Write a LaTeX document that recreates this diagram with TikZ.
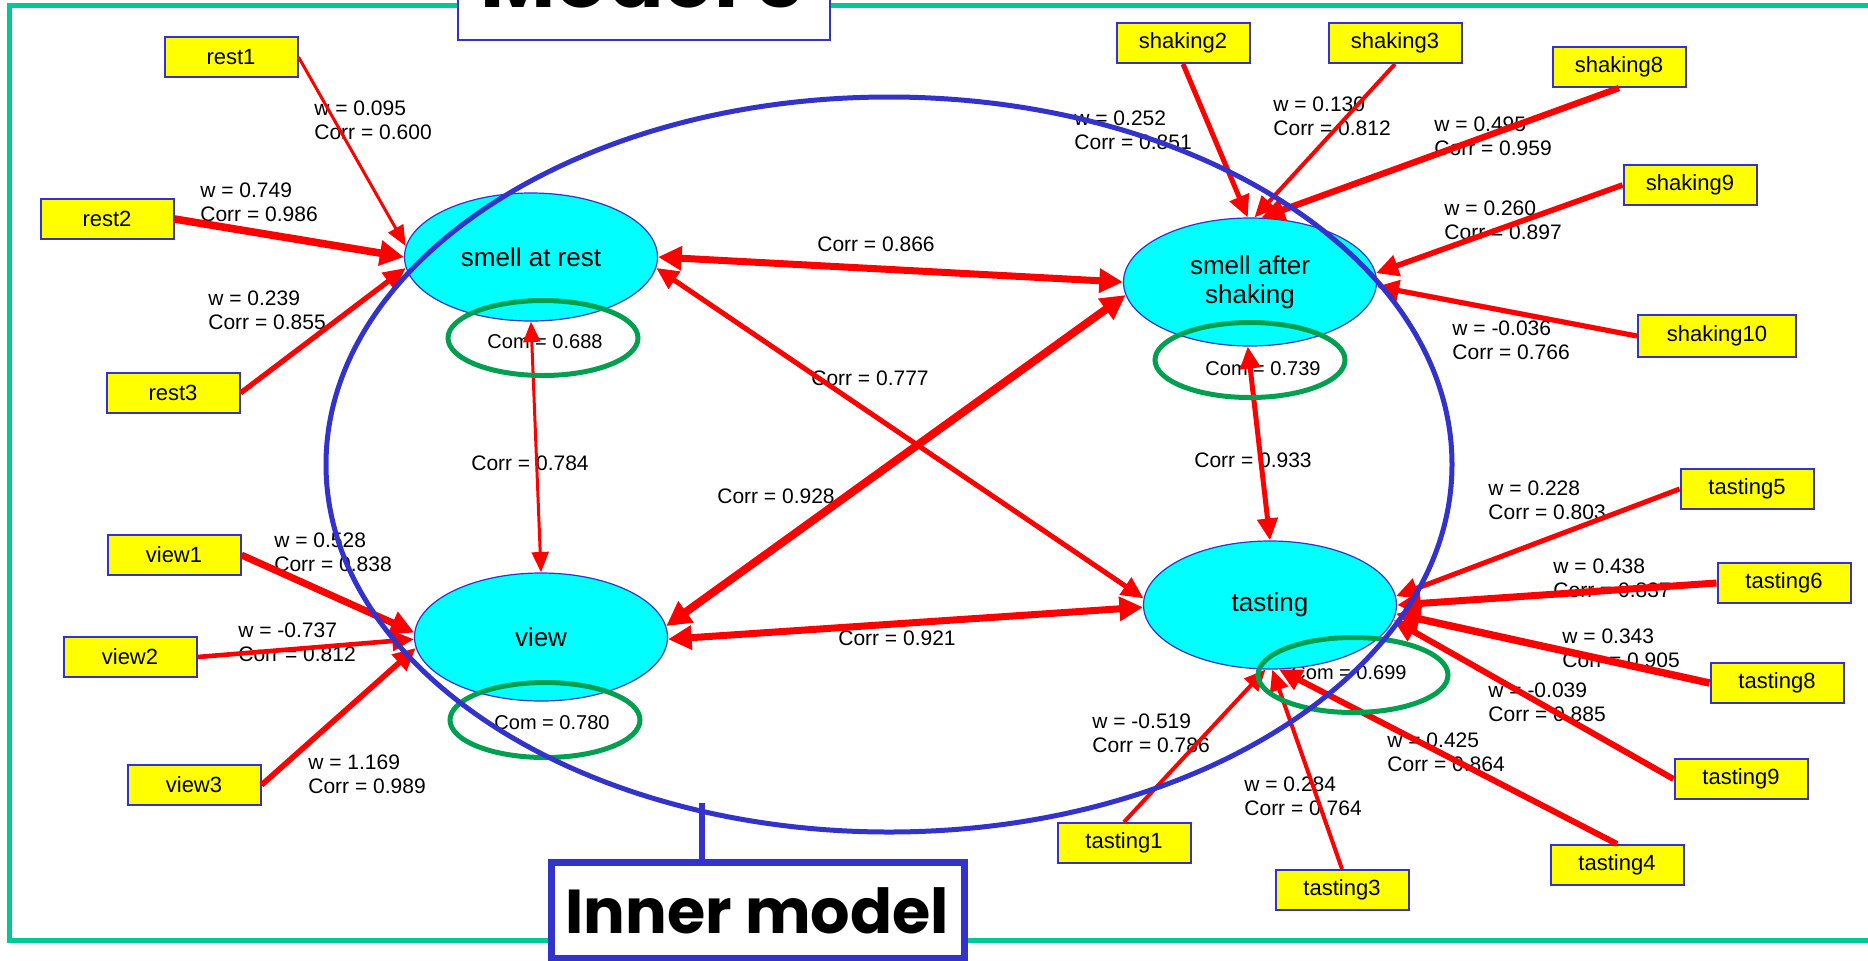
\documentclass[tikz,border=0pt]{standalone}
\usepackage{fontspec}
\setmainfont{Liberation Sans}
\newfontfamily\headfont{Poppins}
\usetikzlibrary{shapes.geometric,arrows.meta}
\definecolor{frameteal}{RGB}{0,200,150}
\definecolor{pathblue}{RGB}{51,51,204}
\definecolor{comgreen}{RGB}{0,160,80}
\definecolor{lvcyan}{RGB}{0,255,255}
\definecolor{mvyellow}{RGB}{255,255,0}
\begin{document}
\begin{tikzpicture}[x=0.5pt,y=-0.5pt,
  mv/.style={draw=pathblue, line width=1pt, fill=mvyellow, minimum width=66.5pt,
    minimum height=20pt, inner sep=0pt, font=\fontsize{11}{13}\selectfont},
  lv/.style={ellipse, draw=pathblue, line width=0.6pt, fill=lvcyan, minimum width=126.5pt,
    minimum height=64pt, inner sep=0pt, align=center, font=\fontsize{13}{14.5}\selectfont},
  wlab/.style={anchor=west, align=left, inner sep=0pt, font=\fontsize{10.5}{12}\selectfont},
  clab/.style={inner sep=0pt, font=\fontsize{10.5}{12}\selectfont},
  comlab/.style={inner sep=0pt, font=\fontsize{10}{12}\selectfont},
  comring/.style={ellipse, draw=comgreen, line width=2.5pt, minimum width=95pt,
    minimum height=37.5pt, inner sep=0pt},
  ind/.style={draw=red, line width=#1, -{Triangle[length=9pt 0.8, width=6pt 1.6]}},
  corr/.style={draw=red, line width=#1,
    {Triangle[length=9pt 0.8, width=6pt 1.6]}-{Triangle[length=9pt 0.8, width=6pt 1.6]}},
  headbox/.style={draw=pathblue, fill=white, inner sep=0pt}
]
\useasboundingbox (0,0) rectangle (1868,960);
\clip (0,0) rectangle (1868,960);

% outer frame
\draw[frameteal, line width=2.5pt] (9,5) rectangle (1900,940);

% weight / loading labels of the outer model
\node[wlab] (l-rest1) at (314,120) {w = 0.095\\Corr = 0.600};
\node[wlab] (l-rest2) at (200,202) {w = 0.749\\Corr = 0.986};
\node[wlab] (l-rest3) at (208,310) {w = 0.239\\Corr = 0.855};
\node[wlab] (l-shk2) at (1074,130.5) {w = 0.252\\Corr = 0.851};
\node[wlab] (l-shk3) at (1273,116.5) {w = 0.130\\Corr = 0.812};
\node[wlab] (l-shk8) at (1434,136) {w = 0.495\\Corr = 0.959};
\node[wlab] (l-shk9) at (1444,220) {w = 0.260\\Corr = 0.897};
\node[wlab] (l-shk10) at (1452,340) {w = -0.036\\Corr = 0.766};
\node[wlab] (l-view1) at (274,552.5) {w = 0.528\\Corr = 0.838};
\node[wlab] (l-view2) at (238,642) {w = -0.737\\Corr = 0.812};
\node[wlab] (l-view3) at (308,774.5) {w = 1.169\\Corr = 0.989};
\node[wlab] (l-tas5) at (1488,500) {w = 0.228\\Corr = 0.803};
\node[wlab] (l-tas6) at (1553,578.5) {w = 0.438\\Corr = 0.837};
\node[wlab] (l-tas8) at (1562,648.5) {w = 0.343\\Corr = 0.905};
\node[wlab] (l-tas9) at (1488,702) {w = -0.039\\Corr = 0.885};
\node[wlab] (l-tas4) at (1387,752.5) {w = 0.425\\Corr = 0.864};
\node[wlab] (l-tas3) at (1244,796) {w = 0.284\\Corr = 0.764};
\node[wlab] (l-tas1) at (1092,733) {w = -0.519\\Corr = 0.786};

% correlations between latent variables
\node[clab] (c-sar-shk) at (876,244) {Corr = 0.866};
\node[clab] (c-sar-tas) at (870,378) {Corr = 0.777};
\node[clab] (c-view-shk) at (776,496) {Corr = 0.928};
\node[clab] (c-view-tas) at (897,638) {Corr = 0.921};
\node[clab] (c-sar-view) at (530,463) {Corr = 0.784};
\node[clab] (c-shk-tas) at (1253,460) {Corr = 0.933};

% communalities
\node[comlab] (m-sar) at (545,342) {Com = 0.688};
\node[comlab] (m-shk) at (1263,369) {Com = 0.739};
\node[comlab] (m-view) at (552,723) {Com = 0.780};
\node[comlab] (m-tas) at (1349,673) {Com = 0.699};

% latent variables
\node[lv] (sar) at (531,257) {smell at rest};
\node[lv] (shk) at (1250,282) {smell after\\shaking};
\node[lv] (view) at (541,637) {view};
\node[lv] (tas) at (1270,605) {tasting};

% manifest variables
\node[mv] (rest1) at (231,57) {rest1};
\node[mv] (rest2) at (107,219) {rest2};
\node[mv] (rest3) at (173,393) {rest3};
\node[mv] (shaking2) at (1183,43) {shaking2};
\node[mv] (shaking3) at (1395,43) {shaking3};
\node[mv] (shaking8) at (1619,67) {shaking8};
\node[mv] (shaking9) at (1690,185) {shaking9};
\node[mv, minimum width=79pt, minimum height=21pt] (shaking10) at (1717,336) {shaking10};
\node[mv] (view1) at (174,555) {view1};
\node[mv] (view2) at (130,657) {view2};
\node[mv] (view3) at (194,785) {view3};
\node[mv] (tasting5) at (1747,489) {tasting5};
\node[mv] (tasting6) at (1784,583) {tasting6};
\node[mv] (tasting8) at (1777,683) {tasting8};
\node[mv] (tasting9) at (1741,779) {tasting9};
\node[mv] (tasting4) at (1617,865) {tasting4};
\node[mv] (tasting3) at (1342,890) {tasting3};
\node[mv] (tasting1) at (1124,843) {tasting1};

% outer model arrows
\draw[ind=1.5pt] (rest1.east) -- (sar.175);
\draw[ind=3.8pt] (rest2.east) -- (sar.180);
\draw[ind=2.6pt] (rest3.east) -- (sar.185);
\draw[ind=2.5pt] (shaking2.south) -- (shk.92);
\draw[ind=2pt] (shaking3.south) -- (shk.86);
\draw[ind=3.2pt] (shaking8.south) -- (shk.80);
\draw[ind=2.8pt] (shaking9.west) -- (shk.4);
\draw[ind=2.6pt] (shaking10.west) -- (shk.-2);
\draw[ind=3.5pt] (view1.east) -- (view.178);
\draw[ind=2.3pt] (view2.east) -- (view.181);
\draw[ind=2.8pt] (view3.east) -- (view.185);
\draw[ind=2.5pt] (tasting5.west) -- (tas.4);
\draw[ind=3.5pt] (tasting6.west) -- (tas.0);
\draw[ind=3.7pt] (tasting8.west) -- (tas.-4);
\draw[ind=3pt] (tasting9.west) -- (tas.-7);
\draw[ind=3pt] (tasting4.north) -- (tas.278);
\draw[ind=2pt] (tasting3.north) -- (tas.272);
\draw[ind=2pt] (tasting1.north) -- (tas.266);

% inner model arrows
\draw[corr=3.5pt] (sar.0) -- (shk.180);
\draw[corr=2.5pt] (sar.-5) -- (tas.177);
\draw[corr=4pt] (view.5) -- (shk.186);
\draw[corr=3.5pt] (view.-1) -- (tas.181);
\draw[corr=1.5pt] (sar.south) -- (view.north);
\draw[corr=2.5pt] (shk.268) -- (tas.north);

% communality rings
\node[comring] (r-sar) at (543,338) {};
\node[comring] (r-shk) at (1250,360) {};
\node[comring] (r-view) at (545,720) {};
\node[comring] (r-tas) at (1353,675) {};

% inner model outline and its caption
\node[ellipse, draw=pathblue, line width=2.5pt, minimum width=563pt, minimum height=367.5pt,
  inner sep=0pt] (inner) at (889,464.5) {};
\node[headbox, line width=3.5pt, minimum width=206.5pt, minimum height=48pt] (innerbox)
  at (758,910.5) {};
\node[anchor=base, inner sep=0pt, font=\headfont\bfseries\fontsize{31}{34}\selectfont]
  (innertext) at (757,933) {Inner model};
\coordinate (tie) at (702,803);
\draw[pathblue, line width=3pt] (tie) -- (tie |- innerbox.north);

% title box at the top edge
\node[headbox, line width=1pt, minimum width=186pt, minimum height=35pt] (titlebox)
  at (644,5) {};
\node[anchor=base, inner sep=0pt, font=\headfont\bfseries\fontsize{41}{44}\selectfont]
  (titletext) at (643,7) {Model 3};
\end{tikzpicture}
\end{document}
